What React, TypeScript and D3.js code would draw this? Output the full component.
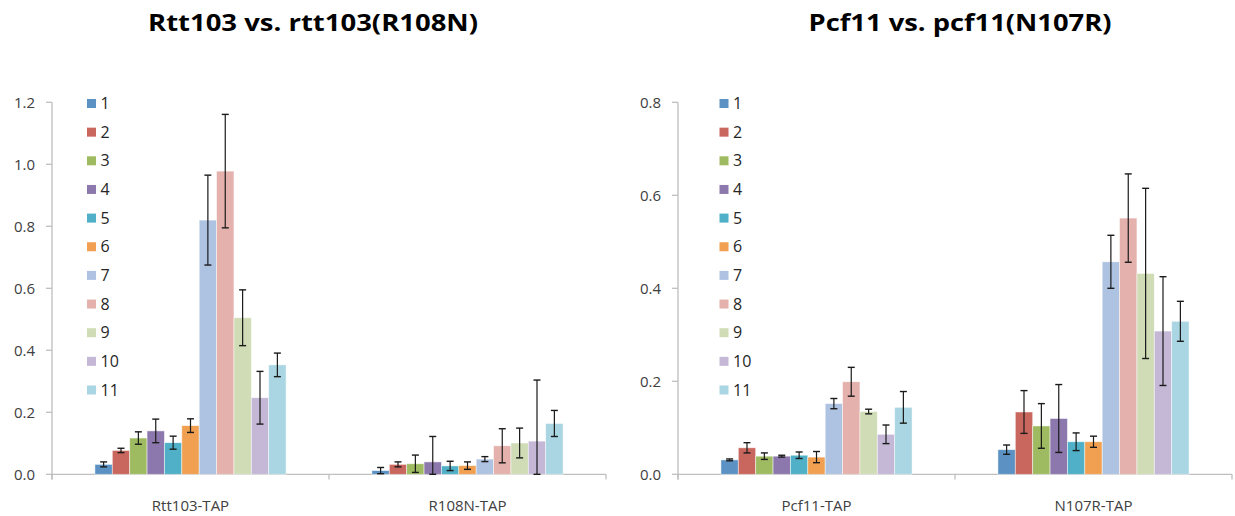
import React from 'react';
import * as d3 from 'd3';

const series = ['1', '2', '3', '4', '5', '6', '7', '8', '9', '10', '11'];
const colors = ['#5b92c3', '#c9665e', '#9fbb62', '#8c78ac', '#4fb0c7', '#f0a050',
  '#aec3e1', '#e4b1ac', '#cfdcb5', '#c4b8d6', '#a9d6e2'];

// left chart: Rtt103 vs. rtt103(R108N)
const leftCats = ['Rtt103-TAP', 'R108N-TAP'];
const leftVals = [
  [0.032, 0.077, 0.117, 0.140, 0.102, 0.157, 0.820, 0.978, 0.505, 0.247, 0.353],
  [0.012, 0.032, 0.034, 0.040, 0.027, 0.028, 0.049, 0.092, 0.101, 0.107, 0.164],
];
const leftErr = [
  [0.008, 0.007, 0.020, 0.038, 0.021, 0.022, 0.145, 0.183, 0.090, 0.085, 0.038],
  [0.010, 0.008, 0.028, 0.082, 0.015, 0.012, 0.008, 0.055, 0.048, 0.197, 0.042],
];
const leftTicks = [0, 0.2, 0.4, 0.6, 0.8, 1.0, 1.2];

// right chart: Pcf11 vs. pcf11(N107R)
const rightCats = ['Pcf11-TAP', 'N107R-TAP'];
const rightVals = [
  [0.031, 0.057, 0.039, 0.039, 0.041, 0.037, 0.152, 0.199, 0.135, 0.086, 0.144],
  [0.053, 0.134, 0.104, 0.120, 0.070, 0.070, 0.457, 0.551, 0.432, 0.308, 0.329],
];
const rightErr = [
  [0.002, 0.011, 0.007, 0.002, 0.007, 0.012, 0.011, 0.031, 0.005, 0.020, 0.034],
  [0.010, 0.046, 0.048, 0.073, 0.019, 0.012, 0.057, 0.095, 0.183, 0.117, 0.043],
];
const rightTicks = [0, 0.2, 0.4, 0.6, 0.8];

const font = '"Open Sans", Lato, sans-serif';

function Panel({ x0, x1, title, titleX, titleW, cats, vals, errs, ticks, yMax, legendX }) {
  const y = d3.scaleLinear().domain([0, yMax]).range([474.3, 102.3]);
  const xCat = d3.scaleBand().domain(cats).range([x0, x1]).padding(0);
  const bw = xCat.bandwidth();
  const groupW = bw * 0.69;
  const xSer = d3.scaleBand().domain(series).range([(bw - groupW) / 2, (bw + groupW) / 2]).padding(0);
  const legendY = d3.scalePoint().domain(series).range([103.5, 390]);
  const axisColor = '#bfbfbf';

  return (
    <g>
      <text x={titleX} y={31} textAnchor="middle" fontFamily={font} fontWeight="bold" fontSize={24}
        textLength={titleW} lengthAdjust="spacingAndGlyphs" fill="#000">{title}</text>
      {/* y axis */}
      <line x1={x0} x2={x0} y1={y(yMax)} y2={479.5} stroke={axisColor} strokeWidth={1.3} />
      {ticks.map(t => (
        <g key={t}>
          <line x1={x0 - 6} x2={x0} y1={y(t)} y2={y(t)} stroke={axisColor} strokeWidth={1.3} />
          <text x={x0 - 17} y={y(t) + 5.5} textAnchor="end" fontFamily={font} fontSize={15} fill="#404040">{t.toFixed(1)}</text>
        </g>
      ))}
      {/* x axis */}
      <line x1={x0} x2={x1} y1={y(0)} y2={y(0)} stroke={axisColor} strokeWidth={1.3} />
      {[...cats.map(c => xCat(c)), x1].map((p, i) => (
        <line key={i} x1={p} x2={p} y1={y(0)} y2={479.5} stroke={axisColor} strokeWidth={1.3} />
      ))}
      {cats.map((c, ci) => (
        <g key={c}>
          <text x={xCat(c) + bw / 2} y={511} textAnchor="middle" fontFamily={font} fontSize={15} fill="#404040">{c}</text>
          {series.map((s, si) => {
            const v = vals[ci][si];
            const e = errs[ci][si];
            const bx = xCat(c) + xSer(s);
            const cx = bx + xSer.bandwidth() / 2;
            const hi = y(v + e);
            const lo = y(Math.max(0, v - e));
            return (
              <g key={s}>
                <rect x={bx} y={y(v)} width={xSer.bandwidth()} height={y(0) - y(v)} fill={colors[si]} stroke="#fff" strokeOpacity={0.6} strokeWidth={0.8} />
                <line x1={cx} x2={cx} y1={hi} y2={lo} stroke="#1a1a1a" strokeWidth={1.2} />
                <line x1={cx - 3.5} x2={cx + 3.5} y1={hi} y2={hi} stroke="#1a1a1a" strokeWidth={1.4} />
                <line x1={cx - 3.5} x2={cx + 3.5} y1={lo} y2={lo} stroke="#1a1a1a" strokeWidth={1.4} />
              </g>
            );
          })}
        </g>
      ))}
      {/* legend */}
      {series.map((s, si) => (
        <g key={s}>
          <rect x={legendX} y={legendY(s) - 4.5} width={9} height={9} fill={colors[si]} />
          <text x={legendX + 13.5} y={legendY(s) + 5.5} fontFamily={font} fontSize={16} fill="#262626">{s}</text>
        </g>
      ))}
    </g>
  );
}

export default function App() {
  return (
    <svg width={1235} height={516} style={{ position: 'absolute', left: 0, top: 0, background: '#fff' }}>
      <rect width={1235} height={516} fill="#fff" />
      <Panel x0={52} x1={606} title="Rtt103 vs. rtt103(R108N)" titleX={313} titleW={330} cats={leftCats}
        vals={leftVals} errs={leftErr} ticks={leftTicks} yMax={1.2} legendX={87} />
      <Panel x0={678} x1={1232} title="Pcf11 vs. pcf11(N107R)" titleX={960} titleW={303} cats={rightCats}
        vals={rightVals} errs={rightErr} ticks={rightTicks} yMax={0.8} legendX={719.5} />
    </svg>
  );
}
